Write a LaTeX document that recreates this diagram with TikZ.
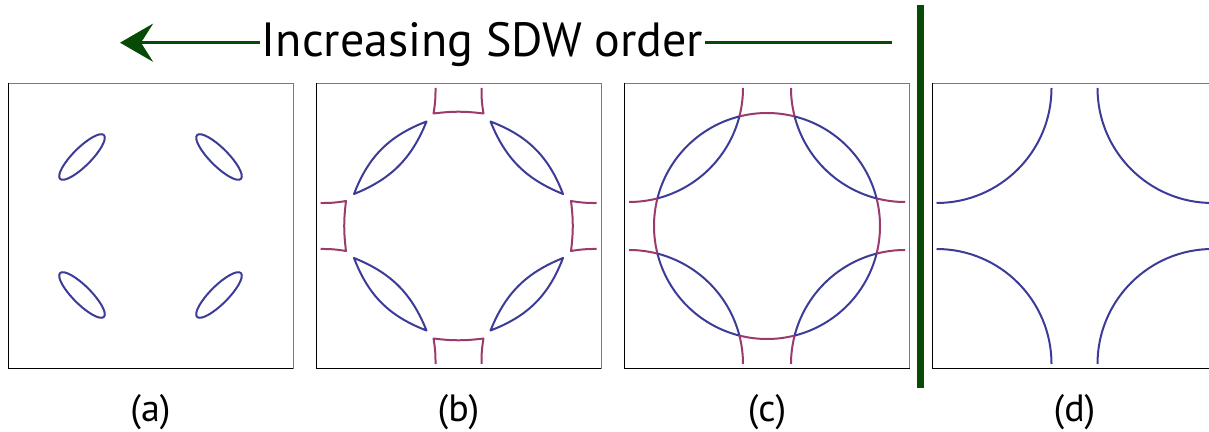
\documentclass[tikz,border=0pt]{standalone}
\usepackage{fontspec}
\setmainfont{PT Sans}
\usepackage{tikz}
\usetikzlibrary{arrows.meta,positioning}
\definecolor{sdwgreen}{HTML}{064A06}
\definecolor{fsblue}{HTML}{3C3C98}
\definecolor{fsmag}{HTML}{9B3A6C}
\definecolor{frmgray}{HTML}{7A7A7A}

\begin{document}
\begin{tikzpicture}[
 x=1pt,y=1pt,
 p/.style={minimum size=285pt,inner sep=0pt,outer sep=0pt},
 lbl/.style={anchor=base,inner sep=0pt,font=\fontsize{38}{42}\selectfont},
 fb/.style={fsblue,line width=2pt,line join=round},
 fm/.style={fsmag,line width=2pt,line join=round},
 g/.style={sdwgreen,line width=3.3pt}
]
\useasboundingbox (0,0) rectangle (1209,431);
% four panels
\node[p] (pa) at (150.5,205) {};
\node[p] (pb) at (458.5,205) {};
\node[p] (pc) at (767,205) {};
\node[p] (pd) at (1074.5,205) {};
\foreach \q in {pa,pb,pc,pd}{
 \draw[frmgray,line width=1pt] (\q.north west) -| (\q.south east);
 \draw[black,line width=1pt] (\q.north west) |- (\q.south east);
}
% (a) small pockets
\foreach \sx/\sy/\ang in {-1/1/45,1/1/-45,-1/-1/-45,1/-1/45}
 \draw[fb,shift={(pa.center)},shift={(\sx*68.5,\sy*69)},rotate=\ang] (0,0) ellipse[x radius=31pt,y radius=9pt];
% (b) gapped
\foreach \r in {0,90,180,270}{
 \begin{scope}[shift={(pb.center)},rotate=\r]
  \draw[fb] (-104.5,32) to[bend left=24] (-32,104.5) to[bend left=23] (-104.5,32) -- cycle;
  \draw[fm] (-23,138) to[bend left=5] (-25,112.5) to[bend left=7] (25,112.5) to[bend left=5] (23,138);
 \end{scope}
}
% (c) folded, no gap
\foreach \r in {0,90,180,270}{
 \begin{scope}[shift={(pc.center)},rotate=\r]
  \draw[fb] (104.1:113) arc[start angle=104.1,end angle=165.9,radius=113pt];
  \draw[fm] (75.9:113) arc[start angle=75.9,end angle=104.1,radius=113pt];
  \draw[fm] (-24,138) arc[start angle=0,end angle=-14.4,radius=114pt];
  \draw[fb] (-138,138) ++(-14.4:114) arc[start angle=-14.4,end angle=-75.6,radius=114pt];
  \draw[fm] (-138,138) ++(-75.6:114) arc[start angle=-75.6,end angle=-90,radius=114pt];
 \end{scope}
}
% (d) paramagnetic
\foreach \r in {0,90,180,270}{
 \begin{scope}[shift={(pd.center)},rotate=\r]
  \draw[fb] (-23,138) arc[start angle=0,end angle=-90,radius=115pt];
 \end{scope}
}
% labels
\node[lbl] (la) at ([yshift=-52.5pt]pa.south) {(a)};
\node[lbl] (lb) at ([yshift=-52.5pt]pb.south) {(b)};
\node[lbl] (lc) at ([yshift=-52.5pt]pc.south) {(c)};
\node[lbl] (ld) at ([yshift=-52.5pt]pd.south) {(d)};
% arrow and divider
\node[anchor=base,inner sep=2pt,font=\fontsize{48}{52}\selectfont] (title) at (482.5,374.3) {Increasing SDW order};
\coordinate (tail) at (892,388.3);
\coordinate (tip) at (120,388.3);
\draw[g] (tail) -- (title.east |- tail);
\draw[g,-{Stealth[length=33pt,width=38pt,inset=12pt]}] (title.west |- tail) -- (tip);
\coordinate (bartop) at (920.5,426);
\coordinate (barbot) at (920.5,43);
\draw[sdwgreen,line width=7pt] (bartop) -- (barbot);
\end{tikzpicture}
\end{document}
